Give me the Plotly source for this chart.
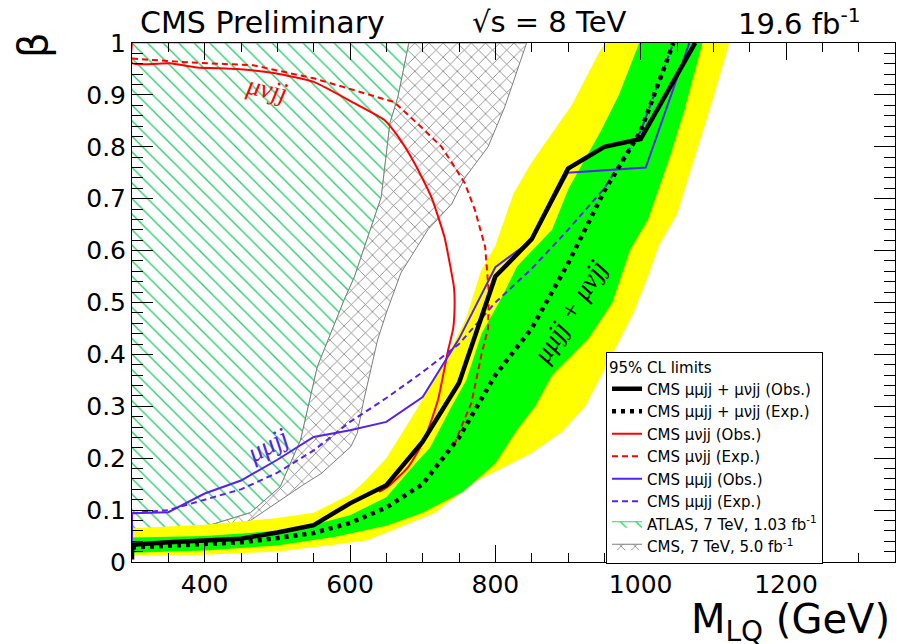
import plotly.graph_objects as go

# ---------------- data ----------------
# combined mumujj + munujj
comb_obs_M = [300, 300, 350, 400, 450, 500, 550, 600, 650, 700, 750, 800, 850, 900, 950, 1000, 1075]
comb_obs_b = [0.005, 0.033, 0.038, 0.042, 0.045, 0.057, 0.071, 0.113, 0.148, 0.232, 0.345, 0.55, 0.622, 0.758, 0.80, 0.815, 1.0]
comb_exp_M = [300, 350, 400, 450, 500, 550, 600, 650, 700, 750, 800, 850, 900, 950, 1000, 1045]
comb_exp_b = [0.028, 0.031, 0.034, 0.038, 0.046, 0.056, 0.075, 0.105, 0.15, 0.24, 0.36, 0.45, 0.575, 0.715, 0.83, 1.0]

# +-1 sigma band (green): upper-left edge, then lower-right edge (top -> bottom)
g1_left_M = [300, 400, 500, 550, 600, 650, 690, 710, 740, 760, 781, 809, 830, 850, 878, 901, 933, 945, 970, 998]
g1_left_b = [0.047, 0.05, 0.06, 0.072, 0.09, 0.125, 0.19, 0.22, 0.30, 0.35, 0.44, 0.51, 0.57, 0.60, 0.64, 0.72, 0.80, 0.83, 0.90, 1.0]
g1_right_M = [1085, 1060, 1040, 1010, 985, 961, 928, 878, 855, 830, 800, 755, 700, 650, 578, 500, 400, 300]
g1_right_b = [1.0, 0.87, 0.78, 0.66, 0.60, 0.50, 0.43, 0.36, 0.30, 0.255, 0.19, 0.135, 0.095, 0.07, 0.048, 0.032, 0.022, 0.018]

# +-2 sigma band (yellow)
y2_left_M = [300, 400, 450, 500, 550, 600, 620, 650, 690, 735, 760, 780, 800, 825, 850, 880, 905, 942, 951]
y2_left_b = [0.065, 0.072, 0.078, 0.085, 0.095, 0.13, 0.155, 0.20, 0.29, 0.40, 0.47, 0.56, 0.61, 0.71, 0.77, 0.83, 0.88, 0.98, 1.0]
y2_right_M = [1122, 1099, 1070, 1050, 1025, 1010, 990, 961, 924, 891, 850, 804, 776, 716, 624, 578, 500, 400, 300]
y2_right_b = [1.0, 0.89, 0.76, 0.67, 0.61, 0.55, 0.48, 0.40, 0.30, 0.25, 0.21, 0.177, 0.158, 0.094, 0.042, 0.033, 0.02, 0.014, 0.012]

# munujj
munu_obs_M = [300, 300, 352, 389, 444, 495, 550, 606, 647, 666, 689, 712, 730, 738, 743, 744, 742, 735, 721, 702, 680, 652, 640]
munu_obs_b = [1.0, 0.961, 0.961, 0.953, 0.95, 0.942, 0.925, 0.884, 0.852, 0.82, 0.768, 0.703, 0.626, 0.57, 0.53, 0.50, 0.45, 0.408, 0.312, 0.235, 0.183, 0.145, 0.135]
munu_exp_M = [300, 375, 467, 550, 606, 661, 698, 726, 744, 758, 772, 786, 791, 790, 781, 767, 753, 742]
munu_exp_b = [0.97, 0.963, 0.957, 0.932, 0.909, 0.886, 0.838, 0.80, 0.761, 0.73, 0.678, 0.607, 0.52, 0.45, 0.40, 0.306, 0.26, 0.22]

# mumujj
mumu_obs_M = [300, 300, 350, 400, 450, 500, 550, 600, 650, 700, 750, 800, 850, 900, 1007, 1067]
mumu_obs_b = [0.035, 0.094, 0.096, 0.132, 0.157, 0.197, 0.241, 0.254, 0.27, 0.318, 0.43, 0.568, 0.62, 0.75, 0.76, 1.0]
mumu_exp_M = [300, 350, 400, 450, 500, 550, 600, 650, 700, 750, 800, 850, 900, 950, 1000, 1045]
mumu_exp_b = [0.094, 0.10, 0.12, 0.14, 0.172, 0.215, 0.27, 0.316, 0.366, 0.42, 0.50, 0.565, 0.64, 0.72, 0.83, 1.0]

# CMS 7 TeV excluded band (grey) and ATLAS 7 TeV region
cms7_left_M = [300, 400, 463, 504, 532, 555, 592, 606, 643, 655, 666, 681]
cms7_left_b = [0.055, 0.068, 0.095, 0.145, 0.235, 0.376, 0.505, 0.549, 0.703, 0.846, 0.896, 1.0]
cms7_right_M = [843, 813, 790, 758, 740, 707, 670, 650, 638, 619, 610, 601, 560, 537, 463, 400, 300]
cms7_right_b = [1.0, 0.877, 0.80, 0.74, 0.69, 0.64, 0.557, 0.48, 0.428, 0.312, 0.248, 0.222, 0.17, 0.15, 0.08, 0.055, 0.04]

x_ticks = [400, 600, 800, 1000, 1200]
y_ticks = [0, 0.1, 0.2, 0.3, 0.4, 0.5, 0.6, 0.7, 0.8, 0.9, 1.0]

# ---------------- figure ----------------
FONT = "DejaVu Sans"
BLUE = "#5522ee"
fig = go.Figure()

fig.add_trace(go.Scatter(
    x=[300] + cms7_left_M[::-1], y=[1.0] + cms7_left_b[::-1],
    fill="toself", mode="lines", line=dict(color="#22dd66", width=1),
    fillcolor="rgba(0,0,0,0)",
    fillpattern=dict(shape="\\", fgcolor="#22cc66", bgcolor="white", size=11, solidity=0.12, fillmode="replace"),
    name="ATLAS, 7 TeV, 1.03 fb<sup>-1</sup>", legendrank=7, hoverinfo="skip"))

fig.add_trace(go.Scatter(
    x=cms7_left_M + cms7_right_M, y=cms7_left_b + cms7_right_b,
    fill="toself", mode="lines", line=dict(color="#808080", width=1),
    fillcolor="rgba(0,0,0,0)",
    fillpattern=dict(shape="x", fgcolor="#7a7a7a", bgcolor="white", size=10, solidity=0.15, fillmode="replace"),
    name="CMS, 7 TeV, 5.0 fb<sup>-1</sup>", legendrank=8, hoverinfo="skip"))

fig.add_trace(go.Scatter(
    x=y2_left_M + y2_right_M, y=y2_left_b + y2_right_b,
    fill="toself", mode="lines", line=dict(width=0, color="#ffff00"),
    fillcolor="#ffff00", showlegend=False, hoverinfo="skip"))
fig.add_trace(go.Scatter(
    x=g1_left_M + g1_right_M, y=g1_left_b + g1_right_b,
    fill="toself", mode="lines", line=dict(width=0, color="#00ff00"),
    fillcolor="#00ff00", showlegend=False, hoverinfo="skip"))

fig.add_trace(go.Scatter(x=munu_exp_M, y=munu_exp_b, mode="lines",
                         line=dict(color="#ff0000", width=2, dash="6px,4px"),
                         name="CMS μνjj (Exp.)", legendrank=4))
fig.add_trace(go.Scatter(x=munu_obs_M, y=munu_obs_b, mode="lines",
                         line=dict(color="#ff0000", width=2, shape="spline", smoothing=0.5),
                         name="CMS μνjj (Obs.)", legendrank=3))
fig.add_trace(go.Scatter(x=mumu_exp_M, y=mumu_exp_b, mode="lines",
                         line=dict(color=BLUE, width=2, dash="6px,4px"),
                         name="CMS μμjj (Exp.)", legendrank=6))
fig.add_trace(go.Scatter(x=mumu_obs_M, y=mumu_obs_b, mode="lines",
                         line=dict(color=BLUE, width=2),
                         name="CMS μμjj (Obs.)", legendrank=5))
fig.add_trace(go.Scatter(x=comb_exp_M, y=comb_exp_b, mode="lines",
                         line=dict(color="black", width=4.5, dash="4px,5px"),
                         name="CMS μμjj + μνjj (Exp.)", legendrank=2))
fig.add_trace(go.Scatter(x=comb_obs_M, y=comb_obs_b, mode="lines",
                         line=dict(color="black", width=4.5),
                         name="CMS μμjj + μνjj (Obs.)", legendrank=1))

axis_common = dict(showline=True, linecolor="black", linewidth=1, mirror="allticks",
                   ticks="inside", tickcolor="black", showgrid=False, zeroline=False,
                   layer="above traces",
                   tickfont=dict(family=FONT, size=25, color="black"))

fig.update_xaxes(range=[300, 1350], tickmode="linear", tick0=400, dtick=200,
                 ticklen=17, tickwidth=1,
                 minor=dict(ticks="inside", tick0=300, dtick=50, ticklen=9, tickcolor="black", tickwidth=1),
                 **axis_common)
fig.update_yaxes(range=[0, 1], tickmode="linear", tick0=0, dtick=0.1,
                 ticklen=21, tickwidth=1,
                 minor=dict(ticks="inside", tick0=0, dtick=0.02, ticklen=11, tickcolor="black", tickwidth=1),
                 **axis_common)

ann = []
def txt(x, y, s, size, xanchor="left", yanchor="middle", angle=0, color="black", family=FONT, xref="paper", yref="paper"):
    ann.append(dict(x=x, y=y, xref=xref, yref=yref, text=s, showarrow=False, xanchor=xanchor,
                    yanchor=yanchor, textangle=angle, font=dict(family=family, size=size, color=color)))

# paper coords: plot area px x 132..895, y 43..562
def px(xp):
    return (xp - 132) / 763.0
def py(yp):
    return (562 - yp) / 519.0

txt(px(138), py(22), "CMS Preliminary", 30)
txt(px(470), py(22), "√s = 8 TeV", 29)
txt(px(736), py(22), "19.6 fb<sup>-1</sup>", 29)
txt(px(33), py(45), "β", 40, xanchor="center", angle=-90)
txt(px(892), py(622), "M<sub>LQ</sub> (GeV)", 40, xanchor="right")

txt(486, 0.912, "<i>μνjj</i>", 27, xanchor="center", angle=12, color="#ff0000",
    family="Liberation Serif", xref="x", yref="y")
txt(487, 0.225, "<i>μμjj</i>", 27, xanchor="center", angle=-28, color=BLUE,
    family="Liberation Serif", xref="x", yref="y")
txt(902, 0.482, "<i>μμjj + μνjj</i>", 27, xanchor="center", angle=-58, color="black",
    family="Liberation Serif", xref="x", yref="y")

fig.update_layout(
    width=897, height=644,
    margin=dict(l=132, r=2, t=43, b=82, autoexpand=False),
    paper_bgcolor="white", plot_bgcolor="white",
    annotations=ann,
    showlegend=True,
    legend=dict(x=px(606), y=py(352), xanchor="left", yanchor="top",
                bgcolor="white", bordercolor="black", borderwidth=1,
                font=dict(family=FONT, size=15, color="black"),
                title=dict(text="95% CL limits", font=dict(family=FONT, size=15, color="black")),
                itemwidth=30, tracegroupgap=0),
)

fig.write_html("out.html", config={"displayModeBar": False},
               post_script="document.body.style.margin='0';document.body.style.overflow='hidden';")
